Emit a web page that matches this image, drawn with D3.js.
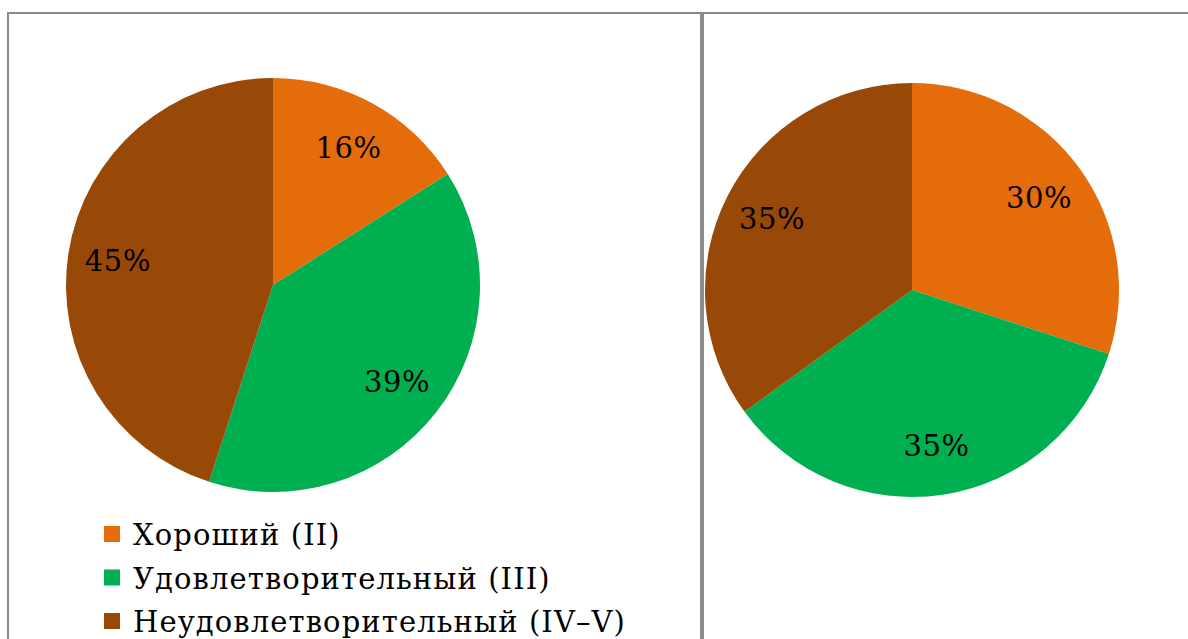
<!DOCTYPE html>
<html>
<head>
<meta charset="utf-8">
<script src="https://cdn.jsdelivr.net/npm/d3@7"></script>
<style>
  html, body { margin: 0; padding: 0; background: #fff; }
  svg { display: block; }
</style>
</head>
<body>
<svg id="chart" width="1188" height="639"></svg>
<script>
// Categories and shares for the two pies
const categories = ["Хороший (II)", "Удовлетворительный (III)", "Неудовлетворительный (IV–V)"];
const colors = ["#E46C0A", "#00B050", "#984807"];
const leftValues = [16, 39, 45];
const rightValues = [30, 35, 35];

const serif = "'DejaVu Serif', serif";
const svg = d3.select("#chart");

// Panel frame lines
svg.append("line").attr("x1", 7).attr("x2", 1188).attr("y1", 13).attr("y2", 13)
  .attr("stroke", "#8a8a8a").attr("stroke-width", 2);
svg.append("line").attr("x1", 8).attr("x2", 8).attr("y1", 12).attr("y2", 639)
  .attr("stroke", "#8a8a8a").attr("stroke-width", 2);
svg.append("line").attr("x1", 702).attr("x2", 702).attr("y1", 12).attr("y2", 639)
  .attr("stroke", "#8a8a8a").attr("stroke-width", 4);

const radius = 207;
const labelRadius = 157;
const pie = d3.pie().sort(null).value(d => d);
const arc = d3.arc().innerRadius(0).outerRadius(radius);
const labelArc = d3.arc().innerRadius(labelRadius).outerRadius(labelRadius);

function drawPie(values, cx, cy) {
  const g = svg.append("g").attr("transform", `translate(${cx},${cy})`);
  const arcs = pie(values);
  g.selectAll("path").data(arcs).join("path")
    .attr("d", arc)
    .attr("fill", (d, i) => colors[i]);
  g.selectAll("text").data(arcs).join("text")
    .attr("transform", d => `translate(${labelArc.centroid(d)})`)
    .attr("text-anchor", "middle")
    .attr("dy", "0.36em")
    .attr("font-family", serif)
    .attr("font-size", 29)
    .attr("letter-spacing", 0.6)
    .attr("fill", "#000")
    .text(d => d.data + "%");
}

drawPie(leftValues, 273, 285);
drawPie(rightValues, 912, 290);

// Legend under the left pie
const legend = svg.append("g").attr("transform", "translate(104,535)");
const rows = legend.selectAll("g").data(categories).join("g")
  .attr("transform", (d, i) => `translate(0,${i * 43.5})`);
rows.append("rect").attr("x", 0).attr("y", -9).attr("width", 16).attr("height", 16)
  .attr("fill", (d, i) => colors[i]);
rows.append("text").attr("x", 29).attr("y", 0).attr("dy", "0.36em")
  .attr("font-family", serif)
  .attr("letter-spacing", 1.1)
  .attr("font-size", 29).attr("fill", "#000").text(d => d);
</script>
</body>
</html>
